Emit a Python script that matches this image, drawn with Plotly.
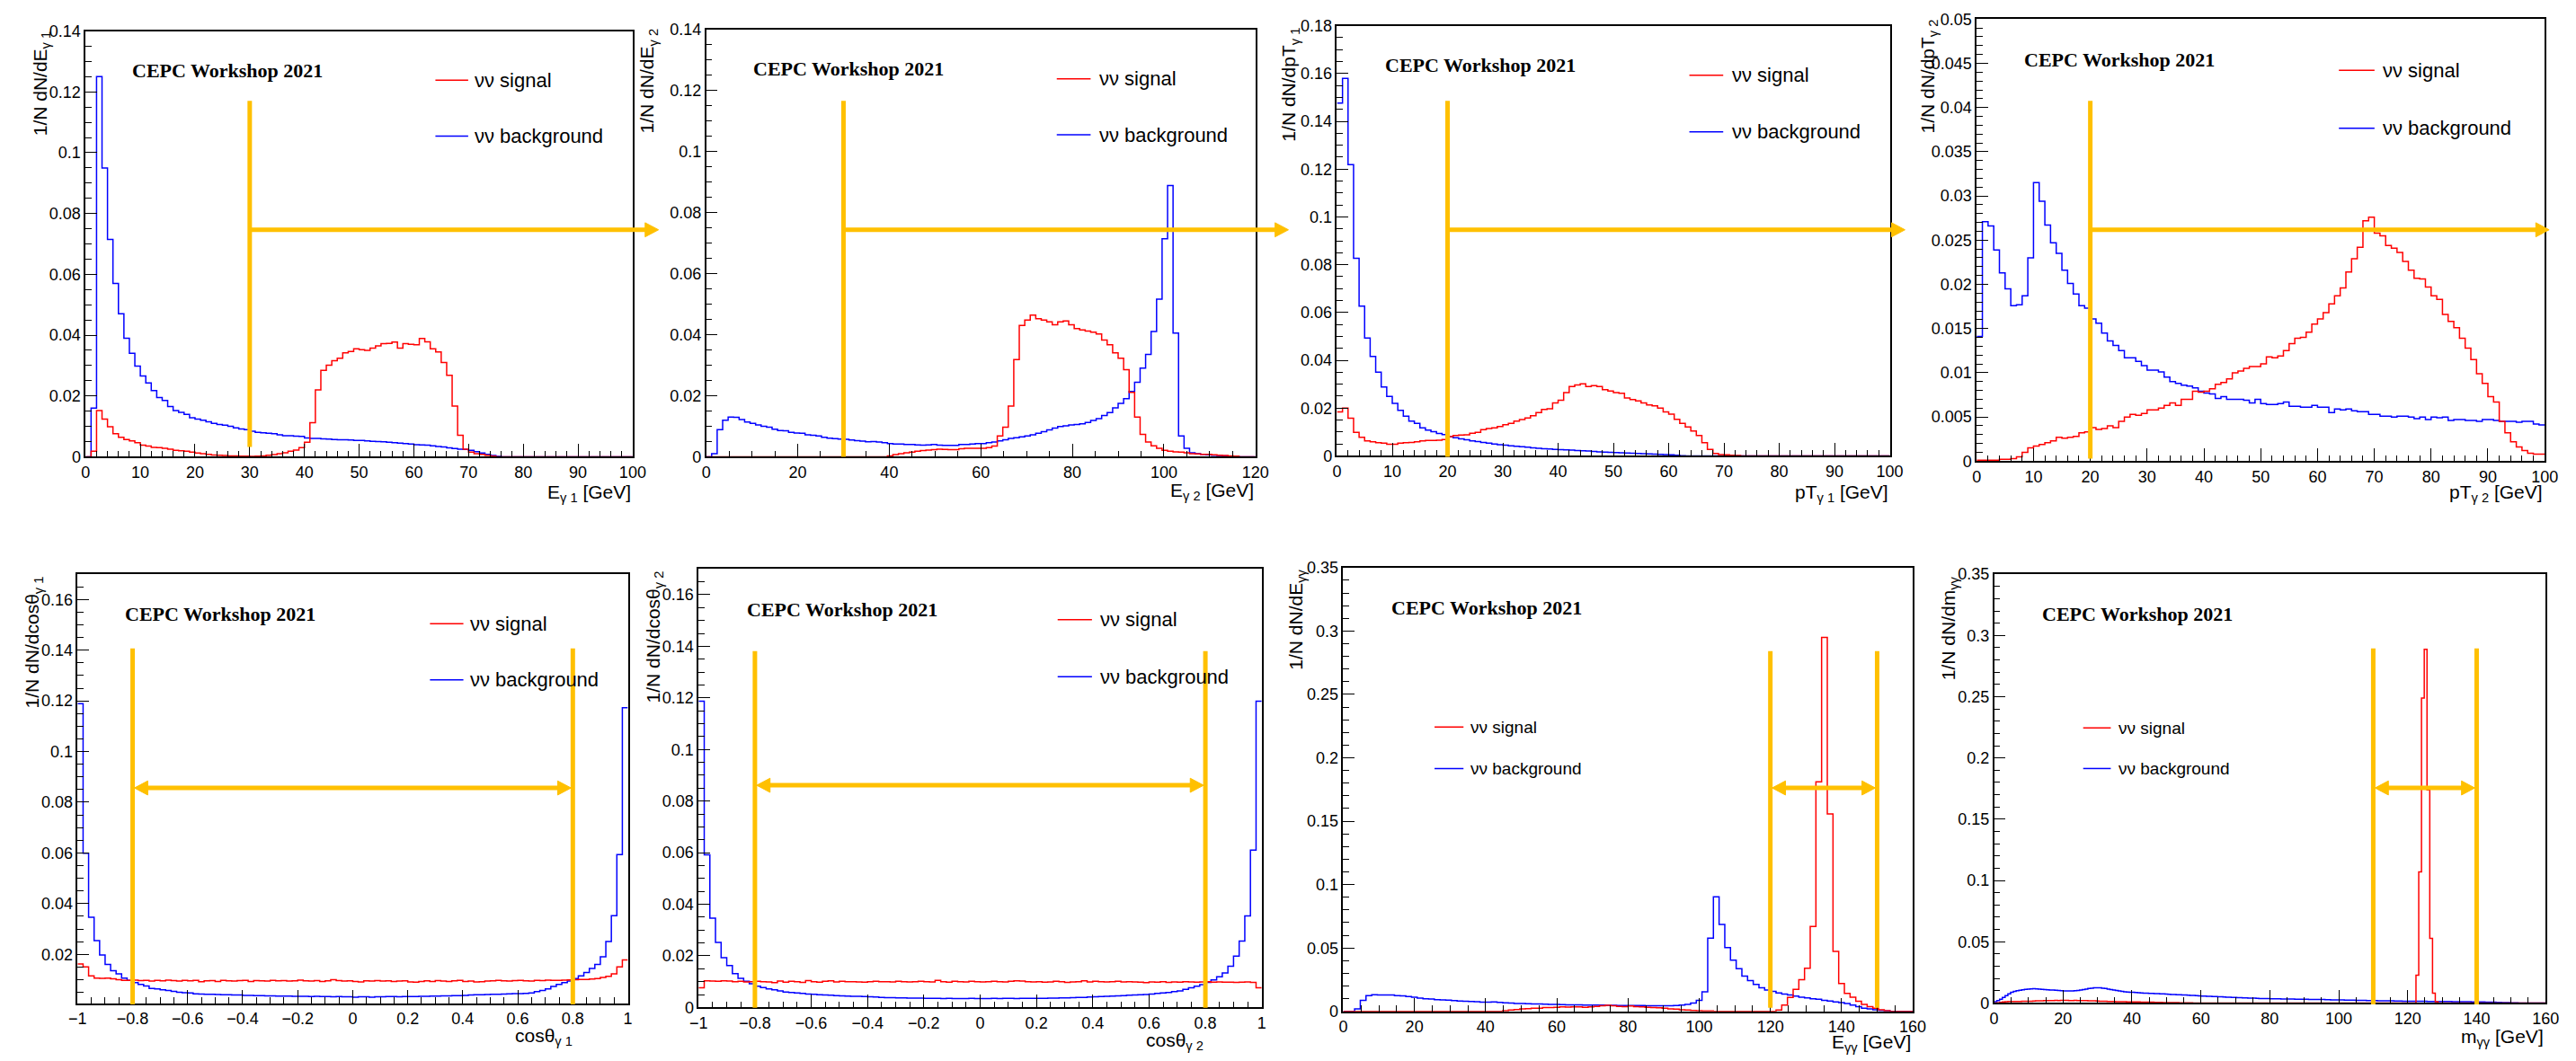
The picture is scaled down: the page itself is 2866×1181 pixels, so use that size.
import numpy as np
import plotly.graph_objects as go

W, H = 2866, 1181
FONT = "Liberation Sans, Arial, sans-serif"
SERIF = "Liberation Serif, Times New Roman, serif"
ORANGE = "#FFC000"

# ---------------- data (normalised bin contents) ----------------
# binning: (xmin, xmax, nbins)
bins_e1 = (0, 100, 100)
bins_e2 = (0, 120, 100)
bins_pt1 = (0, 100, 100)
bins_pt2 = (0, 100, 100)
bins_cos1 = (-1, 1, 100)
bins_cos2 = (-1, 1, 100)
bins_egg = (0, 160, 100)
bins_mgg = (0, 160, 200)

e1_bkg = [0, 0.016, 0.125, 0.095, 0.0715, 0.057, 0.047, 0.039, 0.034, 0.0298,
          0.0266, 0.0243, 0.0218, 0.0195, 0.0185, 0.0165, 0.0152, 0.0146, 0.0139, 0.0128,
          0.0124, 0.0120, 0.0115, 0.0110, 0.0106, 0.0104, 0.0100, 0.0095, 0.0091, 0.0089,
          0.0084, 0.0080, 0.0079, 0.0077, 0.0076, 0.0072, 0.0069, 0.0069, 0.0068, 0.0067,
          0.0062, 0.0060, 0.0060, 0.0059, 0.0058, 0.0057, 0.0056, 0.0056, 0.0055, 0.0054,
          0.0054, 0.0052, 0.0051, 0.0050, 0.0049, 0.0048, 0.0046, 0.0045, 0.0043, 0.0042,
          0.0040, 0.0039, 0.0038, 0.0036, 0.0034, 0.0032, 0.0029, 0.0027, 0.0025, 0.0024,
          0.0021, 0.0017, 0.0012, 0.0008, 0.0004, 0.0001] + [0] * 24
e1_sig = [0, 0.0018, 0.0152, 0.0124, 0.0099, 0.0076, 0.0064, 0.0057, 0.0052, 0.0046,
          0.0038, 0.0035, 0.0031, 0.0030, 0.0028, 0.0025, 0.0021, 0.0020, 0.0018, 0.0015,
          0.0012, 0.0010, 0.0008, 0.0006, 0.0005, 0.0004, 0.0003, 0.0003, 0.0002, 0.0002,
          0.0001, 0.0002, 0.0003, 0.0005, 0.0007, 0.0010, 0.0013, 0.0018, 0.0022, 0.0030,
          0.0048, 0.0112, 0.0220, 0.0284, 0.0301, 0.0316, 0.0324, 0.0342, 0.0346, 0.0355,
          0.0352, 0.0350, 0.0357, 0.0365, 0.0372, 0.0373, 0.0377, 0.0357, 0.0372, 0.0370,
          0.0368, 0.0389, 0.0378, 0.0355, 0.0345, 0.0310, 0.0268, 0.0167, 0.0071, 0.0025,
          0.0015, 0.0010, 0.0008, 0.0005, 0.0002] + [0] * 25

e2_bkg = [0, 0.001, 0.0089, 0.012, 0.013, 0.0129, 0.0122, 0.0114, 0.0109, 0.0104,
          0.0100, 0.0097, 0.0090, 0.0086, 0.0085, 0.0080, 0.0078, 0.0077, 0.0072, 0.0070,
          0.0068, 0.0064, 0.0061, 0.0059, 0.0058, 0.0057, 0.0055, 0.0053, 0.0051, 0.0049,
          0.0050, 0.0048, 0.0046, 0.0043, 0.0042, 0.0042, 0.0040, 0.0040, 0.0039, 0.0038,
          0.0039, 0.0040, 0.0038, 0.0037, 0.0037, 0.0037, 0.0040, 0.0040, 0.0042, 0.0043,
          0.0043, 0.0046, 0.0048, 0.0052, 0.0056, 0.0060, 0.0062, 0.0065, 0.0068, 0.0072,
          0.0077, 0.0082, 0.0088, 0.0094, 0.0099, 0.0101, 0.0104, 0.0106, 0.0108, 0.0112,
          0.0119, 0.0125, 0.0135, 0.0145, 0.0160, 0.0175, 0.0190, 0.0214, 0.0244, 0.0290,
          0.0335, 0.0410, 0.0516, 0.0714, 0.0888, 0.0405, 0.0068, 0.0028, 0.0013, 0.0010,
          0.0008, 0.0006, 0.0005, 0.0004, 0.0003, 0.0002, 0.0001, 0, 0, 0]
e2_sig = [0] * 33 + [
          0.0003, 0.0007, 0.0010, 0.0013, 0.0015, 0.0018, 0.0020, 0.0022, 0.0023, 0.0025,
          0.0024, 0.0023, 0.0023, 0.0026, 0.0028, 0.0028, 0.0028, 0.0028, 0.0030, 0.0035,
          0.0068, 0.0097, 0.0166, 0.0318, 0.0430, 0.0448, 0.0464, 0.0452, 0.0448, 0.0442,
          0.0432, 0.0442, 0.0445, 0.0432, 0.0420, 0.0415, 0.0412, 0.0408, 0.0402, 0.0382,
          0.0367, 0.0340, 0.0323, 0.0285, 0.0211, 0.0130, 0.0073, 0.0048, 0.0036, 0.0028,
          0.0021, 0.0018, 0.0016, 0.0015, 0.0013, 0.0010, 0.0009, 0.0008, 0.0008, 0.0006,
          0.0005, 0.0004, 0.0003, 0.0002, 0, 0, 0]

pt1_bkg = [0.1476, 0.1580, 0.1219, 0.0827, 0.0627, 0.0493, 0.0416, 0.0350, 0.0288, 0.0249,
           0.0220, 0.0191, 0.0166, 0.0145, 0.0136, 0.0117, 0.0108, 0.0101, 0.0094, 0.0089,
           0.0081, 0.0076, 0.0071, 0.0067, 0.0063, 0.0060, 0.0056, 0.0053, 0.0050, 0.0047,
           0.0045, 0.0042, 0.0040, 0.0038, 0.0036, 0.0034, 0.0032, 0.0030, 0.0029, 0.0027,
           0.0026, 0.0025, 0.0024, 0.0022, 0.0021, 0.0020, 0.0019, 0.0017, 0.0016, 0.0015,
           0.0014, 0.0013, 0.0012, 0.0011, 0.0010, 0.0009, 0.0008, 0.0007, 0.0006, 0.0005,
           0.0004, 0.0003, 0.0001] + [0] * 37
pt1_sig = [0.0184, 0.0200, 0.0158, 0.0098, 0.0078, 0.0063, 0.0059, 0.0055, 0.0053, 0.0049,
           0.0049, 0.0053, 0.0055, 0.0056, 0.0059, 0.0063, 0.0065, 0.0065, 0.0066, 0.0068,
           0.0081, 0.0085, 0.0087, 0.0088, 0.0095, 0.0098, 0.0110, 0.0114, 0.0117, 0.0123,
           0.0130, 0.0136, 0.0145, 0.0152, 0.0159, 0.0168, 0.0181, 0.0194, 0.0197, 0.0222,
           0.0233, 0.0265, 0.0290, 0.0297, 0.0301, 0.0290, 0.0294, 0.0290, 0.0277, 0.0271,
           0.0265, 0.0262, 0.0242, 0.0236, 0.0230, 0.0222, 0.0213, 0.0209, 0.0200, 0.0184,
           0.0175, 0.0153, 0.0136, 0.0121, 0.0104, 0.0085, 0.0055, 0.0027, 0.0010, 0.0005,
           0.0004, 0.0003, 0.0002] + [0] * 27

pt2_bkg = [0.0141, 0.0271, 0.0266, 0.0239, 0.0213, 0.0195, 0.0176, 0.0177, 0.0187, 0.0230,
           0.0315, 0.0294, 0.0267, 0.0247, 0.0235, 0.0216, 0.0201, 0.0189, 0.0176, 0.0173,
           0.0161, 0.0156, 0.0145, 0.0136, 0.0131, 0.0125, 0.0117, 0.0117, 0.0113, 0.0108,
           0.0103, 0.0103, 0.0101, 0.0095, 0.0090, 0.0088, 0.0086, 0.0085, 0.0083, 0.0079,
           0.0077, 0.0076, 0.0071, 0.0073, 0.0070, 0.0070, 0.0070, 0.0069, 0.0066, 0.0070,
           0.0065, 0.0064, 0.0064, 0.0065, 0.0067, 0.0062, 0.0062, 0.0061, 0.0061, 0.0063,
           0.0061, 0.0061, 0.0055, 0.0059, 0.0058, 0.0059, 0.0057, 0.0056, 0.0056, 0.0053,
           0.0053, 0.0051, 0.0051, 0.0050, 0.0051, 0.0051, 0.0050, 0.0048, 0.0050, 0.0047,
           0.0050, 0.0049, 0.0050, 0.0046, 0.0047, 0.0047, 0.0046, 0.0046, 0.0045, 0.0047,
           0.0047, 0.0046, 0.0045, 0.0045, 0.0045, 0.0044, 0.0045, 0.0045, 0.0042, 0.0041]
pt2_sig = [0.0001, 0.0001, 0.0001, 0.0001, 0.0002, 0.0002, 0.0003, 0.0005, 0.0010, 0.0015,
           0.0017, 0.0019, 0.0021, 0.0023, 0.0027, 0.0026, 0.0027, 0.0028, 0.0032, 0.0033,
           0.0038, 0.0036, 0.0037, 0.0040, 0.0038, 0.0045, 0.0050, 0.0053, 0.0052, 0.0054,
           0.0058, 0.0058, 0.0060, 0.0063, 0.0066, 0.0063, 0.0070, 0.0070, 0.0079, 0.0078,
           0.0079, 0.0082, 0.0087, 0.0089, 0.0093, 0.0100, 0.0102, 0.0105, 0.0107, 0.0107,
           0.0110, 0.0118, 0.0117, 0.0119, 0.0125, 0.0133, 0.0139, 0.0140, 0.0146, 0.0155,
           0.0161, 0.0168, 0.0178, 0.0187, 0.0196, 0.0214, 0.0229, 0.0242, 0.0272, 0.0276,
           0.0258, 0.0255, 0.0244, 0.0241, 0.0236, 0.0226, 0.0216, 0.0207, 0.0206, 0.0197,
           0.0187, 0.0183, 0.0166, 0.0158, 0.0151, 0.0139, 0.0128, 0.0115, 0.0099, 0.0088,
           0.0073, 0.0067, 0.0045, 0.0032, 0.0022, 0.0016, 0.0012, 0.0009, 0.0008, 0.0008]

cos1_bkg = [0.1189, 0.0599, 0.0346, 0.0254, 0.0197, 0.0160, 0.0135, 0.0123, 0.0106, 0.0097,
            0.0088, 0.0081, 0.0075, 0.0065, 0.0063, 0.0060, 0.0057, 0.0054, 0.0050, 0.0048,
            0.0047, 0.0044, 0.0043, 0.0042, 0.0042, 0.0041, 0.0040, 0.0040, 0.0039, 0.0039,
            0.0038, 0.0038, 0.0037, 0.0037, 0.0036, 0.0036, 0.0035, 0.0035, 0.0035, 0.0034,
            0.0034, 0.0034, 0.0033, 0.0034, 0.0033, 0.0033, 0.0032, 0.0033, 0.0032, 0.0032,
            0.0031, 0.0032, 0.0032, 0.0031, 0.0032, 0.0032, 0.0033, 0.0033, 0.0032, 0.0033,
            0.0033, 0.0033, 0.0034, 0.0034, 0.0035, 0.0035, 0.0036, 0.0036, 0.0037, 0.0037,
            0.0038, 0.0039, 0.0040, 0.0040, 0.0041, 0.0042, 0.0042, 0.0043, 0.0044, 0.0045,
            0.0045, 0.0046, 0.0047, 0.0053, 0.0057, 0.0063, 0.0073, 0.0081, 0.0088, 0.0094,
            0.0104, 0.0115, 0.0128, 0.0144, 0.0160, 0.0190, 0.0250, 0.0352, 0.0593, 0.1173]
cos1_sig = [0.0162, 0.0150, 0.0115, 0.0106, 0.0105, 0.0106, 0.0103, 0.0100, 0.0097, 0.0097,
            0.0098, 0.0096, 0.0097, 0.0094, 0.0097, 0.0095, 0.0098, 0.0096, 0.0094, 0.0097,
            0.0095, 0.0097, 0.0092, 0.0095, 0.0096, 0.0093, 0.0097, 0.0095, 0.0094, 0.0096,
            0.0097, 0.0093, 0.0096, 0.0095, 0.0094, 0.0097, 0.0095, 0.0096, 0.0094, 0.0095,
            0.0098, 0.0095, 0.0094, 0.0096, 0.0093, 0.0095, 0.0100, 0.0096, 0.0094, 0.0095,
            0.0093, 0.0091, 0.0095, 0.0094, 0.0096, 0.0094, 0.0095, 0.0093, 0.0094, 0.0095,
            0.0091, 0.0090, 0.0093, 0.0095, 0.0093, 0.0096, 0.0094, 0.0093, 0.0095, 0.0097,
            0.0093, 0.0094, 0.0091, 0.0092, 0.0094, 0.0095, 0.0097, 0.0095, 0.0094, 0.0096,
            0.0097, 0.0095, 0.0094, 0.0097, 0.0096, 0.0098, 0.0097, 0.0097, 0.0098, 0.0099,
            0.0100, 0.0101, 0.0101, 0.0102, 0.0104, 0.0109, 0.0113, 0.0123, 0.0150, 0.0178]

cos2_bkg = [0.1187, 0.0592, 0.0346, 0.0252, 0.0193, 0.0162, 0.0131, 0.0113, 0.0101, 0.0092,
            0.0082, 0.0077, 0.0072, 0.0068, 0.0064, 0.0060, 0.0058, 0.0056, 0.0054, 0.0052,
            0.0051, 0.0049, 0.0048, 0.0047, 0.0046, 0.0045, 0.0044, 0.0043, 0.0043, 0.0042,
            0.0041, 0.0040, 0.0039, 0.0038, 0.0038, 0.0037, 0.0037, 0.0036, 0.0036, 0.0036,
            0.0035, 0.0035, 0.0035, 0.0034, 0.0035, 0.0034, 0.0034, 0.0034, 0.0035, 0.0034,
            0.0034, 0.0034, 0.0035, 0.0034, 0.0035, 0.0035, 0.0034, 0.0035, 0.0035, 0.0035,
            0.0035, 0.0035, 0.0036, 0.0036, 0.0037, 0.0037, 0.0038, 0.0039, 0.0039, 0.0040,
            0.0041, 0.0042, 0.0043, 0.0044, 0.0045, 0.0046, 0.0047, 0.0048, 0.0049, 0.0050,
            0.0052, 0.0054, 0.0056, 0.0058, 0.0061, 0.0064, 0.0070, 0.0076, 0.0082, 0.0088,
            0.0097, 0.0107, 0.0119, 0.0134, 0.0160, 0.0199, 0.0257, 0.0355, 0.0610, 0.1187]
cos2_sig = [0.0076, 0.0103, 0.0102, 0.0101, 0.0103, 0.0102, 0.0100, 0.0101, 0.0099, 0.0100,
            0.0101, 0.0100, 0.0099, 0.0096, 0.0102, 0.0098, 0.0101, 0.0100, 0.0097, 0.0104,
            0.0100, 0.0098, 0.0101, 0.0103, 0.0099, 0.0101, 0.0100, 0.0100, 0.0099, 0.0098,
            0.0100, 0.0101, 0.0100, 0.0100, 0.0099, 0.0101, 0.0100, 0.0099, 0.0100, 0.0101,
            0.0100, 0.0099, 0.0105, 0.0100, 0.0098, 0.0101, 0.0100, 0.0099, 0.0101, 0.0100,
            0.0099, 0.0100, 0.0101, 0.0100, 0.0099, 0.0101, 0.0103, 0.0102, 0.0100, 0.0099,
            0.0100, 0.0098, 0.0099, 0.0101, 0.0100, 0.0097, 0.0099, 0.0100, 0.0103, 0.0099,
            0.0101, 0.0100, 0.0099, 0.0100, 0.0101, 0.0099, 0.0100, 0.0099, 0.0098, 0.0096,
            0.0099, 0.0098, 0.0100, 0.0097, 0.0099, 0.0098, 0.0100, 0.0099, 0.0098, 0.0099,
            0.0100, 0.0098, 0.0099, 0.0098, 0.0098, 0.0097, 0.0098, 0.0099, 0.0097, 0.0076]

egg_bkg = [0, 0, 0.0020, 0.0087, 0.0125, 0.0132, 0.0130, 0.0130, 0.0130, 0.0125,
           0.0122, 0.0117, 0.0112, 0.0105, 0.0100, 0.0097, 0.0093, 0.0090, 0.0088, 0.0085,
           0.0082, 0.0080, 0.0078, 0.0076, 0.0073, 0.0072, 0.0075, 0.0071, 0.0068, 0.0066,
           0.0063, 0.0062, 0.0060, 0.0058, 0.0058, 0.0057, 0.0055, 0.0055, 0.0053, 0.0052,
           0.0052, 0.0051, 0.0050, 0.0050, 0.0049, 0.0049, 0.0048, 0.0048, 0.0047, 0.0047,
           0.0047, 0.0046, 0.0046, 0.0045, 0.0045, 0.0044, 0.0044, 0.0045, 0.0047, 0.0050,
           0.0055, 0.0065, 0.0087, 0.0154, 0.0578, 0.0904, 0.0685, 0.0503, 0.0404, 0.0336,
           0.0279, 0.0242, 0.0212, 0.0187, 0.0169, 0.0157, 0.0145, 0.0137, 0.0130, 0.0120,
           0.0112, 0.0107, 0.0100, 0.0095, 0.0087, 0.0082, 0.0075, 0.0070, 0.0062, 0.0050,
           0.0037, 0.0025, 0.0020, 0.0012, 0.0007, 0.0005, 0, 0, 0, 0]
egg_sig = [0] * 28 + [
           0.0005, 0.0010, 0.0015, 0.0020, 0.0022, 0.0025, 0.0025, 0.0030, 0.0030, 0.0032,
           0.0035, 0.0033, 0.0035, 0.0035, 0.0032, 0.0035, 0.0040, 0.0045, 0.0048, 0.0045,
           0.0040, 0.0038, 0.0042, 0.0038, 0.0035, 0.0032, 0.0030, 0.0028, 0.0025, 0.0020,
           0.0018, 0.0012, 0.0010, 0.0008, 0.0005, 0.0003, 0.0003] + [0] * 11 + [
           0.0010, 0.0050, 0.0110, 0.0174, 0.0250, 0.0340, 0.0670, 0.1810, 0.2950, 0.1557,
           0.0473, 0.0219, 0.0142, 0.0112, 0.0080, 0.0055, 0.0037, 0.0025, 0.0012, 0.0005] + [0] * 4

mgg_bkg = [0.0010, 0.0020, 0.0030, 0.0045, 0.0060, 0.0075, 0.0088, 0.0095, 0.0100, 0.0104,
           0.0108, 0.0112, 0.0114, 0.0115, 0.0116, 0.0115, 0.0114, 0.0112, 0.0110, 0.0108,
           0.0106, 0.0106, 0.0104, 0.0102, 0.0100, 0.0099, 0.0098, 0.0098, 0.0099, 0.0100,
           0.0102, 0.0106, 0.0110, 0.0114, 0.0118, 0.0121, 0.0124, 0.0125, 0.0124, 0.0121,
           0.0118, 0.0114, 0.0110, 0.0106, 0.0102, 0.0098, 0.0095, 0.0092, 0.0090, 0.0088,
           0.0087, 0.0085, 0.0084, 0.0082, 0.0081, 0.0080, 0.0079, 0.0078, 0.0077, 0.0076,
           0.0075, 0.0074, 0.0072, 0.0071, 0.0070, 0.0069, 0.0068, 0.0067, 0.0066, 0.0065,
           0.0064, 0.0062, 0.0061, 0.0060, 0.0059, 0.0057, 0.0056, 0.0055, 0.0054, 0.0053,
           0.0052, 0.0051, 0.0050, 0.0049, 0.0048, 0.0047, 0.0046, 0.0045, 0.0044, 0.0043,
           0.0042, 0.0041, 0.0040, 0.0040, 0.0039, 0.0038, 0.0037, 0.0037, 0.0036, 0.0036,
           0.0035, 0.0035, 0.0034, 0.0034, 0.0033, 0.0033, 0.0033, 0.0032, 0.0032, 0.0031,
           0.0031, 0.0030, 0.0030, 0.0030, 0.0029, 0.0029, 0.0029, 0.0028, 0.0028, 0.0028,
           0.0027, 0.0027, 0.0026, 0.0026, 0.0026, 0.0025, 0.0025, 0.0024, 0.0024, 0.0023,
           0.0023, 0.0022, 0.0022, 0.0021, 0.0021, 0.0020, 0.0020, 0.0019, 0.0019, 0.0018,
           0.0018, 0.0018, 0.0017, 0.0017, 0.0017, 0.0016, 0.0016, 0.0016, 0.0015, 0.0015,
           0.0015, 0.0015, 0.0014, 0.0014, 0.0014, 0.0014, 0.0014, 0.0013, 0.0013, 0.0013,
           0.0013, 0.0013, 0.0012, 0.0012, 0.0012, 0.0012, 0.0011, 0.0011, 0.0011, 0.0011,
           0.0010, 0.0010, 0.0010, 0.0009, 0.0009, 0.0009, 0.0008, 0.0008, 0.0007, 0.0007,
           0.0006, 0.0006, 0.0005, 0.0005, 0.0004, 0.0003, 0.0003, 0.0002, 0.0001, 0.0001] + [0] * 10
mgg_sig = [0, 0.0002, 0.0005, 0.0008, 0.0010, 0.0012, 0.0012, 0.0013, 0.0012, 0.0013,
           0.0014, 0.0015, 0.0014, 0.0015, 0.0016, 0.0017, 0.0018, 0.0018, 0.0019, 0.0019,
           0.0020, 0.0020, 0.0021, 0.0020, 0.0021, 0.0022, 0.0021, 0.0020, 0.0020, 0.0021,
           0.0020, 0.0019, 0.0020, 0.0019, 0.0018, 0.0018, 0.0017, 0.0016, 0.0015, 0.0015,
           0.0014, 0.0013, 0.0013, 0.0012, 0.0011, 0.0011, 0.0010, 0.0010, 0.0009, 0.0009,
           0.0008, 0.0008, 0.0008, 0.0007, 0.0007, 0.0006, 0.0006, 0.0006, 0.0005, 0.0005,
           0.0005, 0.0004, 0.0004, 0.0004, 0.0003, 0.0003, 0.0003, 0.0002, 0.0002, 0.0002,
           0.0002, 0.0001] + [0] * 81 + [
           0.0227, 0.1070, 0.2490, 0.2887, 0.1740, 0.0528, 0.0080, 0.0010] + [0] * 39

# selection cuts drawn in orange
cut_e1 = [30]
cut_e2 = [30]
cut_pt1 = [20]
cut_pt2 = [20]
cut_cos1 = [-0.8, 0.8]
cut_cos2 = [-0.8, 0.8]
cut_egg = [120, 150]
cut_mgg = [110, 140]

# axis titles
xtitles = ["E<sub>γ 1</sub> [GeV]", "E<sub>γ 2</sub> [GeV]", "pT<sub>γ 1</sub> [GeV]",
           "pT<sub>γ 2</sub> [GeV]", "cosθ<sub>γ 1</sub>", "cosθ<sub>γ 2</sub>",
           "E<sub>γγ</sub> [GeV]", "m<sub>γγ</sub> [GeV]"]
ytitles = ["1/N dN/dE<sub>γ 1</sub>", "1/N dN/dE<sub>γ 2</sub>", "1/N dN/dpT<sub>γ 1</sub>",
           "1/N dN/dpT<sub>γ 2</sub>", "1/N dN/dcosθ<sub>γ 1</sub>", "1/N dN/dcosθ<sub>γ 2</sub>",
           "1/N dN/dE<sub>γγ</sub>", "1/N dN/dm<sub>γγ</sub>"]
legend_labels = ["νν signal", "νν background"]
watermark = "CEPC Workshop 2021"

sig_list = [e1_sig, e2_sig, pt1_sig, pt2_sig, cos1_sig, cos2_sig, egg_sig, mgg_sig]
bkg_list = [e1_bkg, e2_bkg, pt1_bkg, pt2_bkg, cos1_bkg, cos2_bkg, egg_bkg, mgg_bkg]
bin_list = [bins_e1, bins_e2, bins_pt1, bins_pt2, bins_cos1, bins_cos2, bins_egg, bins_mgg]
cut_list = [cut_e1, cut_e2, cut_pt1, cut_pt2, cut_cos1, cut_cos2, cut_egg, cut_mgg]

# ---------------- layout geometry (pixels) ----------------
frames = [(86, 25, 700, 507), (782.5, 23, 1399, 507), (1490.5, 19, 2111, 506), (2208.5, 11.5, 2846, 512),
          (77, 640, 694.6, 1126), (774, 634, 1406, 1130.5), (1497.5, 632.5, 2136.7, 1135), (2228, 640, 2847, 1125.5)]
yranges = [(0, 0.14), (0, 0.14), (0, 0.18), (0, 0.05), (0.0006, 0.17), (0, 0.17), (0, 0.35), (0, 0.35)]
xticks = [(10, 2), (20, 5), (10, 2), (10, 2), (0.2, 0.05), (0.2, 0.05), (20, 5), (20, 5)]
yticks = [(0.02, 0.005), (0.02, 0.005), (0.02, 0.005), (0.005, 0.001), (0.02, 0.005), (0.02, 0.005),
          (0.05, 0.01), (0.05, 0.01)]
# orange decoration: (line top px, line bottom px, arrow y px, arrow tip px or None)
deco = [(104, 496, 250, 729), (104, 507, 250, 1436), (104, 507, 250, 2128), (104, 509, 250, 2851),
        (724, 1127, 882, None), (727, 1131, 879, None), (727, 1131, 882, None), (724, 1127, 882, None)]
# legend: (line x0, line x1, y signal, y background, text x, font size)
legpos = [(478.6, 515.4, 80.6, 144, 521, 22), (1176, 1214, 79, 142.5, 1221.5, 22),
          (1886, 1924, 75, 139, 1932, 22), (2615, 2655, 69.5, 135, 2662, 22),
          (472.5, 510, 696, 759.5, 516, 22), (1177, 1215.5, 691.5, 756, 1222.5, 22),
          (1600, 1632.5, 813, 860, 1638, 19), (2328, 2359, 814, 860, 2365.5, 19)]
cepc_pos = [(136, 69.5), (833, 68), (1542, 64), (2260, 57), (128, 685.5), (826, 680), (1550, 678), (2280, 685)]
ytitle_pos = [(36, 24), (717, 21), (1438, 19), (2155, 10), (27, 640), (724, 634), (1446, 632), (2178, 640)]
xtitle_pos = [(700, 548), (1399, 546), (2111, 548), (2846, 548), (635, 1164), (1343, 1169), (2137, 1171), (2847, 1165)]


def px(x):
    return x / W


def py(y):
    return 1 - y / H


fig = go.Figure()
shapes = []
annotations = []
layout_axes = {}

for k in range(8):
    n = k + 1
    xs = "" if n == 1 else str(n)
    L, T, R, B = frames[k]
    x0, x1, nb = bin_list[k]
    edges = np.linspace(x0, x1, nb + 1)
    for vals, col in ((bkg_list[k], "#0000FF"), (sig_list[k], "#FF0000")):
        yv = list(vals) + [vals[-1]]
        fig.add_trace(go.Scatter(x=edges, y=yv, mode="lines", line=dict(color=col, width=1.5, shape="hv"),
                                 xaxis="x" + xs, yaxis="y" + xs, showlegend=False, hoverinfo="skip"))
    axcommon = dict(showline=True, mirror=True, linecolor="black", linewidth=1.5, ticks="inside",
                    tickcolor="black", showgrid=False, zeroline=False, tickangle=0,
                    tickfont=dict(family=FONT, size=18, color="black"))
    layout_axes["xaxis" + xs] = dict(domain=[L / W, R / W], range=[x0, x1], anchor="y" + xs,
                                     dtick=xticks[k][0], tick0=0, ticklen=15, tickwidth=1.2,
                                     minor=dict(dtick=xticks[k][1], tick0=0, ticks="inside", ticklen=7,
                                                tickcolor="black", tickwidth=1),
                                     **axcommon)
    layout_axes["yaxis" + xs] = dict(domain=[1 - B / H, 1 - T / H], range=list(yranges[k]), anchor="x" + xs,
                                     dtick=yticks[k][0], tick0=0, ticklen=13, tickwidth=1.2,
                                     minor=dict(dtick=yticks[k][1], tick0=0, ticks="inside", ticklen=7,
                                                tickcolor="black", tickwidth=1),
                                     **axcommon)

    def xpix(v):
        return L + (v - x0) / (x1 - x0) * (R - L)

    # orange cut lines and arrows
    ltop, lbot, ay, tip = deco[k]
    cuts = cut_list[k]
    for c in cuts:
        xc = xpix(c)
        shapes.append(dict(type="line", xref="paper", yref="paper", x0=px(xc), x1=px(xc), y0=py(ltop), y1=py(lbot),
                           line=dict(color=ORANGE, width=5)))
    hl, hh = 15, 8
    if tip is not None:
        xs0 = xpix(cuts[0])
        shapes.append(dict(type="line", xref="paper", yref="paper", x0=px(xs0), x1=px(tip - hl + 2),
                           y0=py(ay), y1=py(ay), line=dict(color=ORANGE, width=5)))
        shapes.append(dict(type="path", xref="paper", yref="paper",
                           path=f"M {px(tip)},{py(ay)} L {px(tip - hl)},{py(ay - hh)} L {px(tip - hl)},{py(ay + hh)} Z",
                           fillcolor=ORANGE, line=dict(color=ORANGE, width=1)))
    else:
        xa, xb = xpix(cuts[0]) + 2, xpix(cuts[1]) - 2
        shapes.append(dict(type="line", xref="paper", yref="paper", x0=px(xa + hl - 2), x1=px(xb - hl + 2),
                           y0=py(ay), y1=py(ay), line=dict(color=ORANGE, width=5)))
        shapes.append(dict(type="path", xref="paper", yref="paper",
                           path=f"M {px(xa)},{py(ay)} L {px(xa + hl)},{py(ay - hh)} L {px(xa + hl)},{py(ay + hh)} Z",
                           fillcolor=ORANGE, line=dict(color=ORANGE, width=1)))
        shapes.append(dict(type="path", xref="paper", yref="paper",
                           path=f"M {px(xb)},{py(ay)} L {px(xb - hl)},{py(ay - hh)} L {px(xb - hl)},{py(ay + hh)} Z",
                           fillcolor=ORANGE, line=dict(color=ORANGE, width=1)))

    # legend
    lx0, lx1, ys, yb, tx, fs = legpos[k]
    for yy, col, lab in ((ys, "#FF0000", legend_labels[0]), (yb, "#0000FF", legend_labels[1])):
        shapes.append(dict(type="line", xref="paper", yref="paper", x0=px(lx0), x1=px(lx1), y0=py(yy), y1=py(yy),
                           line=dict(color=col, width=1.5)))
        annotations.append(dict(xref="paper", yref="paper", x=px(tx), y=py(yy), text=lab, showarrow=False,
                                xanchor="left", yanchor="middle", font=dict(family=FONT, size=fs, color="black")))
    # watermark
    cx, cy = cepc_pos[k]
    annotations.append(dict(xref="paper", yref="paper", x=px(cx), y=py(cy), text="<b>" + watermark + "</b>",
                            showarrow=False, xanchor="left", yanchor="middle",
                            font=dict(family=SERIF, size=22, color="black")))
    # axis titles
    yx, yy = ytitle_pos[k]
    annotations.append(dict(xref="paper", yref="paper", x=px(yx), y=py(yy), text=ytitles[k], showarrow=False,
                            textangle=-90, xanchor="center", yanchor="top",
                            font=dict(family=FONT, size=21, color="black")))
    xx, xy = xtitle_pos[k]
    annotations.append(dict(xref="paper", yref="paper", x=px(xx), y=py(xy), text=xtitles[k], showarrow=False,
                            xanchor="right", yanchor="middle",
                            font=dict(family=FONT, size=21, color="black")))

fig.update_layout(width=W, height=H, margin=dict(l=0, r=0, t=0, b=0), paper_bgcolor="white",
                  plot_bgcolor="white", showlegend=False, shapes=shapes, annotations=annotations, **layout_axes)
fig.write_html("out.html")
